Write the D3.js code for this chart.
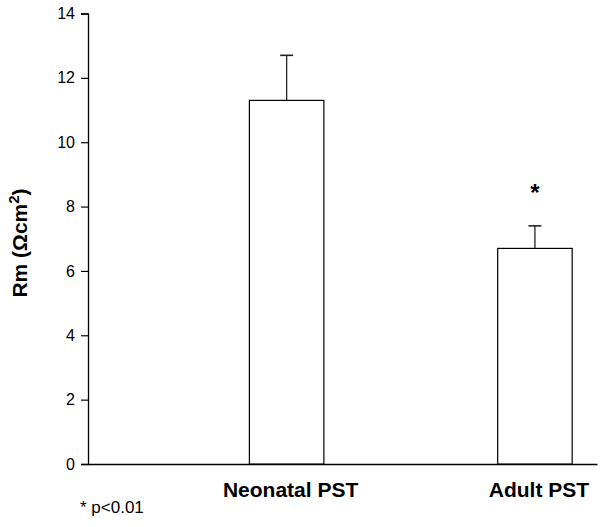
<!DOCTYPE html>
<html><head><meta charset="utf-8">
<script src="https://cdn.jsdelivr.net/npm/d3@7/dist/d3.min.js"></script>
<style>body{margin:0;background:#fff}svg{display:block}text{font-family:Arial,"Liberation Sans",sans-serif}</style>
</head><body><svg id="c" width="604" height="527"></svg>
<script>
const categories = ["Neonatal PST", "Adult PST"];
const means = [11.3, 6.7];
const errors = [1.4, 0.7];
const significant = [false, true];
const yTicks = [0, 2, 4, 6, 8, 10, 12, 14];

const svg = d3.select("#c");
const x = d3.scaleLinear().domain([0.2, 2.25]).range([88, 597]);
const y = d3.scaleLinear().domain([0, 14]).range([464, 13.5]);
const bw = 0.3;

// y axis
const yAxis = d3.axisLeft(y).tickValues(yTicks).tickSize(7).tickPadding(6).tickFormat(d3.format("d"));
const gy = svg.append("g").attr("transform", "translate(88,0)").call(yAxis);
gy.select(".domain").attr("stroke", "#000").attr("stroke-width", 1.3);
gy.selectAll(".tick line").attr("stroke", "#000").attr("stroke-width", 1.2);
gy.selectAll(".tick text").attr("font-size", 16).attr("fill", "#000").style("font-family", "Arial, 'Liberation Sans', sans-serif");

// x axis line
const xAxis = d3.axisBottom(x).tickValues([]).tickSizeOuter(0);
const gx = svg.append("g").attr("transform", "translate(0,464)").call(xAxis);
gx.select(".domain").attr("stroke", "#000").attr("stroke-width", 1.3);

// error bars
categories.forEach((c, i) => {
  const cx = x(i + 1);
  svg.append("line").attr("x1", cx).attr("x2", cx).attr("y1", y(means[i])).attr("y2", y(means[i] + errors[i]))
    .attr("stroke", "#222").attr("stroke-width", 1.3);
  svg.append("line").attr("x1", cx - 6.5).attr("x2", cx + 6.5).attr("y1", y(means[i] + errors[i])).attr("y2", y(means[i] + errors[i]))
    .attr("stroke", "#222").attr("stroke-width", 1.6);
});

// bars
svg.selectAll("rect.bar").data(means).enter().append("rect").attr("class", "bar")
  .attr("x", (d, i) => x(i + 1 - bw / 2))
  .attr("width", (d, i) => x(i + 1 + bw / 2) - x(i + 1 - bw / 2))
  .attr("y", d => y(d))
  .attr("height", d => y(0) - y(d))
  .attr("fill", "#fff").attr("stroke", "#000").attr("stroke-width", 1.2);

// significance asterisks
categories.forEach((c, i) => {
  if (significant[i]) {
    svg.append("text").attr("x", x(i + 1)).attr("y", y(means[i] + errors[i]) - 25)
      .attr("text-anchor", "middle").attr("font-size", 24).attr("font-weight", "bold").text("*");
  }
});

// category labels
svg.selectAll("text.cat").data(categories).enter().append("text").attr("class", "cat")
  .attr("x", (d, i) => x(i + 1) + 4).attr("y", 497)
  .attr("text-anchor", "middle").attr("font-size", 21).attr("font-weight", "bold").text(d => d);

// y label
const yl = svg.append("text").attr("transform", "translate(27,243) rotate(-90)")
  .attr("text-anchor", "middle").attr("font-size", 21).attr("font-weight", "bold");
yl.append("tspan").text("Rm (\u03A9cm");
yl.append("tspan").attr("font-size", 15).attr("dy", -8).text("2");
yl.append("tspan").attr("dy", 8).text(")");

// footnote
svg.append("text").attr("x", 80).attr("y", 513).attr("font-size", 17).text("* p<0.01");
</script></body></html>
